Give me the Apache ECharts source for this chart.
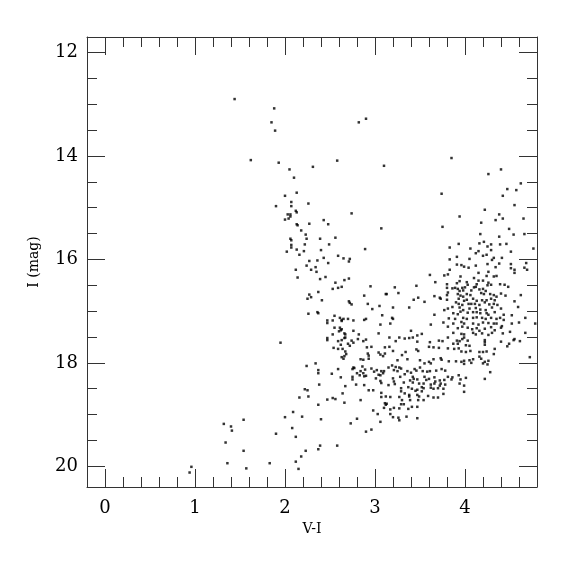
<!DOCTYPE html>
<html><head><meta charset="utf-8">
<script src="https://cdn.jsdelivr.net/npm/echarts@6/dist/echarts.min.js"></script>
<style>html,body{margin:0;padding:0;background:#fff}#c{width:575px;height:575px}</style>
</head><body><div id="c"></div>
<script>
// [V-I, I] pairs
const brightStars = [[1.44,12.90],[1.88,13.08],[1.85,13.35],[1.89,13.51],[2.82,13.35],[2.90,13.28],[1.62,14.08],[1.93,14.13],[2.05,14.26],[2.10,14.42],[2.31,14.21],[2.58,14.09],[3.10,14.19],[3.85,14.04],[4.40,14.26],[4.26,14.35],[4.62,14.53]];
const blueBranch = [[2.13,14.71],[2.00,14.77],[2.07,14.89],[2.07,14.97],[1.90,14.97],[2.26,14.92],[2.12,15.06],[2.13,15.09],[2.03,15.13],[2.06,15.13],[2.06,15.17],[2.04,15.21],[2.00,15.23],[2.74,15.11],[2.13,15.32],[2.14,15.34],[2.27,15.31],[2.43,15.24],[2.48,15.32],[3.07,15.40],[2.18,15.44],[2.23,15.52],[2.24,15.60],[2.06,15.60],[2.07,15.63],[2.39,15.60],[2.56,15.58],[2.07,15.72],[2.07,15.77],[2.22,15.71],[2.49,15.71],[2.13,15.81],[2.02,15.85],[2.21,15.84],[2.40,15.82],[2.89,15.80],[2.16,15.91],[2.43,15.97],[2.59,15.93],[2.65,15.98],[2.72,15.99],[2.71,16.04],[2.27,16.03],[2.36,16.02],[2.48,16.07],[2.24,16.12],[2.34,16.15],[2.29,16.20],[2.35,16.24],[2.12,16.20],[2.14,16.35],[2.45,16.34],[2.39,16.38],[2.66,16.40],[2.71,16.37],[2.56,16.45],[2.59,16.55],[2.63,16.53],[2.53,16.57],[2.95,16.52],[3.12,16.67],[2.37,16.63],[2.27,16.68],[2.25,16.76],[2.29,16.73],[2.41,16.79],[2.88,16.70],[2.71,16.81],[2.72,16.84],[2.74,16.87],[2.92,16.86],[3.05,16.90],[2.97,16.96],[2.26,17.05],[2.36,17.02],[2.37,17.04],[2.55,17.09],[2.47,17.18],[2.47,17.23],[2.53,17.18],[2.61,17.13],[2.65,17.15],[2.63,17.17],[2.63,17.19],[2.70,17.15],[2.76,17.18],[3.08,17.08],[2.88,17.17],[2.90,17.15],[3.06,17.26],[2.55,17.32],[2.61,17.32],[2.62,17.37],[2.60,17.39],[2.63,17.35],[2.66,17.43],[2.67,17.45],[2.76,17.38],[2.53,17.45],[2.82,17.45],[3.04,17.43]];
const faintBranch = [[2.47,17.52],[2.47,17.56],[2.59,17.58],[2.63,17.56],[2.67,17.51],[2.66,17.52],[2.74,17.57],[2.76,17.61],[2.81,17.54],[2.87,17.58],[2.90,17.55],[1.95,17.61],[2.70,17.63],[2.72,17.67],[2.62,17.65],[2.54,17.71],[2.59,17.73],[2.64,17.73],[2.91,17.70],[2.96,17.69],[3.11,17.70],[2.67,17.78],[2.68,17.83],[2.66,17.87],[2.63,17.89],[2.65,17.92],[2.92,17.82],[2.93,17.86],[3.04,17.80],[3.06,17.84],[3.09,17.87],[3.11,17.82],[2.84,17.93],[2.87,17.94],[2.93,17.92],[2.34,18.01],[2.24,18.06],[2.37,18.14],[2.37,18.20],[2.52,18.21],[2.59,18.12],[2.76,18.09],[2.75,18.12],[2.77,18.10],[2.86,18.07],[2.89,18.13],[2.75,18.27],[2.75,18.32],[2.80,18.20],[2.84,18.16],[2.87,18.20],[2.83,18.24],[2.88,18.26],[2.90,18.25],[2.96,18.11],[2.99,18.17],[3.02,18.14],[3.07,18.16],[3.09,18.20],[3.06,18.24],[3.10,18.16],[3.04,18.23],[3.01,18.30],[3.06,18.35],[3.07,18.39],[2.62,18.28],[2.67,18.45],[2.38,18.42],[2.79,18.42],[2.88,18.43],[2.93,18.53],[2.98,18.53],[2.22,18.51],[2.25,18.53],[2.26,18.65],[2.16,18.67],[2.47,18.71],[2.53,18.68],[2.56,18.70],[2.64,18.59],[2.66,18.77],[2.84,18.72],[3.07,18.58],[3.07,18.66],[3.12,18.65],[3.11,18.78],[3.12,18.81],[3.10,18.87],[2.37,18.81],[2.98,18.92],[3.03,18.99],[3.06,19.14],[2.96,19.29],[2.90,19.33],[2.80,19.08],[2.73,19.17],[2.40,19.09],[2.19,19.04],[2.09,18.95],[2.00,19.05],[1.54,19.10],[2.08,19.26],[2.12,19.43],[1.90,19.37],[2.39,19.60],[2.37,19.67],[2.58,19.60],[2.23,19.70],[1.54,19.70],[2.18,19.81],[2.12,19.91],[1.83,19.94],[2.15,20.05],[1.57,20.04]];
const faintBlue = [[1.32,19.18],[1.40,19.23],[1.41,19.31],[1.34,19.54],[1.36,19.94],[0.96,20.01],[0.94,20.12]];
const redGiants = [[3.74,14.73],[4.47,14.64],[4.57,14.66],[4.42,14.77],[4.55,14.95],[4.22,15.04],[3.94,15.17],[4.38,15.13],[4.42,15.21],[4.34,15.24],[4.65,15.21],[4.18,15.29],[3.75,15.37],[4.49,15.41],[4.17,15.51],[4.54,15.52],[4.66,15.51],[4.38,15.56],[4.21,15.66],[4.16,15.69],[4.29,15.71],[4.39,15.71],[4.46,15.70],[3.93,15.70],[3.83,15.77],[4.06,15.79],[4.15,15.84],[4.29,15.82],[4.25,15.75],[4.51,15.85],[4.76,15.79],[4.12,15.88],[4.20,15.93],[4.24,15.91],[4.32,15.97],[4.41,15.97],[4.30,16.01],[3.91,15.95],[3.83,16.00],[4.05,15.99],[3.96,16.11],[3.91,16.10],[3.99,16.14],[4.04,16.16],[4.12,16.12],[4.25,16.09],[4.38,16.08],[4.34,16.15],[4.51,16.09],[4.51,16.17],[4.55,16.20],[4.55,16.26],[4.66,16.16],[4.69,16.20],[4.68,16.07],[3.83,16.20],[3.81,16.29],[3.77,16.31],[3.61,16.30],[4.15,16.26],[4.26,16.24],[4.24,16.32],[4.32,16.33],[4.35,16.32],[4.10,16.36],[3.95,16.33],[3.94,16.42],[3.91,16.46],[4.02,16.44],[4.03,16.49],[4.15,16.41],[4.13,16.48],[4.20,16.41],[4.25,16.50],[4.26,16.45],[4.29,16.49],[4.39,16.48],[4.44,16.49],[4.48,16.53],[3.67,16.44],[3.80,16.48],[3.80,16.55],[3.86,16.56],[3.89,16.55],[3.92,16.57],[3.97,16.55],[3.98,16.60],[4.00,16.54],[4.10,16.54],[4.12,16.53],[4.07,16.60],[4.16,16.58],[4.20,16.57],[4.23,16.61],[4.18,16.65],[4.21,16.67],[4.28,16.67],[4.32,16.69],[4.35,16.72],[4.40,16.66],[4.45,16.70],[4.62,16.69],[3.46,16.51],[3.22,16.54],[3.26,16.65],[3.13,16.67],[3.43,16.78],[3.48,16.74],[3.55,16.82],[3.66,16.71],[3.72,16.74],[3.73,16.76],[3.80,16.69],[3.80,16.78],[3.81,16.64],[3.92,16.67],[3.94,16.61],[3.95,16.70],[3.98,16.72],[4.02,16.67],[4.06,16.69],[3.93,16.76],[3.99,16.80],[4.02,16.78],[4.09,16.76],[4.13,16.80],[4.19,16.79],[4.24,16.79],[4.29,16.76],[4.33,16.79],[3.90,16.83],[3.93,16.86],[3.97,16.88],[4.04,16.86],[4.07,16.86],[4.11,16.86],[4.16,16.88],[4.22,16.83],[4.27,16.87],[4.32,16.86],[4.36,16.88],[4.55,16.81],[3.20,16.93],[3.38,16.93],[3.81,16.95],[3.86,16.92],[3.94,16.93],[3.98,16.98],[4.05,16.95],[4.12,16.94],[4.17,16.97],[4.23,16.98],[4.30,16.93],[4.40,16.95],[4.59,16.92],[3.77,16.98],[3.87,17.04],[3.92,17.06],[3.95,17.01],[4.03,17.03],[4.09,17.02],[4.13,17.02],[4.17,17.04],[4.24,17.04],[4.26,17.07],[4.33,17.02],[4.43,17.07],[4.52,17.08],[3.66,17.07],[3.19,17.13],[3.20,17.15],[3.17,17.24],[3.82,17.14],[3.89,17.15],[3.98,17.13],[4.02,17.15],[4.09,17.13],[4.13,17.12],[4.19,17.13],[4.23,17.15],[4.29,17.13],[4.35,17.15],[4.39,17.13],[4.43,17.17],[4.60,17.22],[4.67,17.13],[4.78,17.24],[3.62,17.26],[3.76,17.22],[3.87,17.24],[3.96,17.21],[3.99,17.24],[4.09,17.24],[4.15,17.26],[4.20,17.22],[4.26,17.23],[4.32,17.24],[4.35,17.24],[4.41,17.29],[4.52,17.24],[3.81,17.30],[3.92,17.33],[3.97,17.30],[4.03,17.32],[4.08,17.35],[4.13,17.33],[4.16,17.38],[4.22,17.34],[4.29,17.31],[4.33,17.37],[4.40,17.32],[4.50,17.40],[4.67,17.42],[3.40,17.38],[3.47,17.47],[3.52,17.44],[3.87,17.42],[3.96,17.44],[3.99,17.45],[4.09,17.42],[4.12,17.45],[4.19,17.43],[4.26,17.46],[4.30,17.42],[4.42,17.43]];
const clumpStars = [[3.16,17.51],[3.27,17.51],[3.33,17.53],[3.38,17.52],[3.42,17.51],[3.47,17.59],[3.23,17.58],[3.61,17.60],[3.71,17.57],[3.75,17.58],[3.81,17.51],[3.87,17.63],[3.91,17.57],[3.92,17.63],[3.94,17.58],[3.97,17.54],[3.99,17.51],[4.03,17.57],[4.22,17.56],[4.22,17.60],[4.22,17.65],[4.40,17.59],[4.47,17.68],[4.49,17.63],[4.54,17.56],[4.55,17.54],[4.61,17.58],[3.16,17.69],[3.20,17.77],[3.30,17.85],[3.34,17.79],[3.46,17.74],[3.48,17.77],[3.60,17.69],[3.65,17.70],[3.71,17.71],[3.81,17.72],[3.88,17.73],[3.93,17.72],[4.01,17.66],[4.05,17.67],[3.96,17.78],[4.01,17.79],[4.06,17.77],[4.16,17.79],[4.20,17.79],[4.24,17.78],[4.33,17.73],[4.32,17.83],[4.72,17.89],[3.25,17.95],[3.36,17.93],[3.50,17.95],[3.55,18.01],[3.60,17.98],[3.62,18.01],[3.65,17.93],[3.73,17.91],[3.74,17.94],[3.82,17.97],[3.90,17.97],[3.96,17.98],[3.99,17.96],[3.99,18.02],[4.05,17.95],[4.07,18.00],[4.09,17.93],[4.16,17.88],[4.18,17.92],[4.20,18.01],[4.22,17.98],[4.25,18.03],[4.26,17.96],[4.28,18.18],[4.22,18.31],[3.15,18.09],[3.19,18.05],[3.21,18.14],[3.23,18.08],[3.27,18.09],[3.25,18.16],[3.29,18.11],[3.20,18.30],[3.21,18.36],[3.15,18.43],[3.22,18.41],[3.33,18.22],[3.36,18.16],[3.40,18.19],[3.44,18.12],[3.46,18.15],[3.50,18.09],[3.53,18.16],[3.58,18.17],[3.61,18.16],[3.68,18.15],[3.74,18.12],[3.78,18.15],[3.81,18.27],[3.86,18.28],[3.85,18.32],[3.93,18.24],[3.95,18.32],[4.01,18.29],[3.94,18.40],[3.99,18.44],[3.99,18.56],[3.28,18.27],[3.42,18.27],[3.43,18.31],[3.47,18.32],[3.55,18.27],[3.57,18.33],[3.60,18.31],[3.66,18.28],[3.67,18.36],[3.72,18.34],[3.77,18.33],[3.73,18.40],[3.78,18.42],[3.32,18.38],[3.39,18.34],[3.42,18.38],[3.49,18.40],[3.54,18.40],[3.62,18.42],[3.66,18.40],[3.72,18.44],[3.29,18.49],[3.37,18.47],[3.41,18.50],[3.47,18.52],[3.52,18.47],[3.54,18.49],[3.59,18.64],[3.62,18.48],[3.65,18.50],[3.70,18.49],[3.76,18.50],[3.76,18.60],[3.70,18.67],[3.65,18.67],[3.29,18.55],[3.33,18.59],[3.38,18.62],[3.45,18.54],[3.47,18.62],[3.49,18.65],[3.52,18.55],[3.17,18.66],[3.27,18.66],[3.38,18.65],[3.30,18.72],[3.29,18.80],[3.32,18.80],[3.39,18.72],[3.48,18.72],[3.54,18.72],[3.13,18.79],[3.21,18.87],[3.17,18.90],[3.27,18.88],[3.37,18.89],[3.41,18.85],[3.47,18.85],[3.17,18.99],[3.20,19.05],[3.26,19.06],[3.27,19.11],[3.35,19.04],[3.47,19.07]];

const xMajor = [0, 1, 2, 3, 4];
const yMajor = [12, 14, 16, 18, 20];

const xMinor = [];
for (let i = 0; i <= 24; i++) xMinor.push(+(i * 0.2).toFixed(1));
const yMinor = [];
for (let i = 0; i <= 16; i++) yMinor.push(12 + i * 0.5);

const allStars = [].concat(brightStars, blueBranch, faintBranch, faintBlue, redGiants, clumpStars);

const FONT = 'DejaVu Serif';
const lineCol = '#333';
const X_MIN = -0.2, X_MAX = 4.8, Y_MIN = 11.7, Y_MAX = 20.4;

function xAx(pos, vals, len, withLine, withLabel) {
  return {
    type: 'value', position: pos, min: X_MIN, max: X_MAX,
    splitLine: {show: false},
    axisLine: {show: withLine, onZero: false, lineStyle: {color: lineCol, width: 1}},
    axisTick: {show: true, inside: true, length: len, customValues: vals, lineStyle: {color: lineCol, width: 1}},
    axisLabel: withLabel ? {show: true, customValues: xMajor, fontFamily: FONT, fontSize: 18, color: '#000', margin: 12} : {show: false},
    name: withLabel ? 'V-I' : '', nameLocation: 'middle', nameGap: 35,
    nameTextStyle: {fontFamily: FONT, fontSize: 14, color: '#000'}
  };
}
function yAx(pos, vals, len, withLine, withLabel) {
  return {
    type: 'value', position: pos, min: Y_MIN, max: Y_MAX, inverse: true,
    splitLine: {show: false},
    axisLine: {show: withLine, onZero: false, lineStyle: {color: lineCol, width: 1}},
    axisTick: {show: true, inside: true, length: len, customValues: vals, lineStyle: {color: lineCol, width: 1}},
    axisLabel: withLabel ? {show: true, customValues: yMajor, fontFamily: FONT, fontSize: 18, color: '#000', margin: 9} : {show: false},
    name: withLabel ? 'I (mag)' : '', nameLocation: 'middle', nameGap: 46, nameRotate: 90,
    nameTextStyle: {fontFamily: FONT, fontSize: 14, color: '#000'}
  };
}

const chart = echarts.init(document.getElementById('c'), null, {renderer: 'canvas'});
chart.setOption({
  animation: false,
  backgroundColor: '#fff',
  grid: {left: 87, right: 38, top: 37, bottom: 88, containLabel: false},
  xAxis: [
    xAx('bottom', xMajor, 18, true, true),
    xAx('bottom', xMinor, 10, false, false),
    xAx('top', xMajor, 18, true, false),
    xAx('top', xMinor, 10, false, false)
  ],
  yAxis: [
    yAx('left', yMajor, 18, true, true),
    yAx('left', yMinor, 10, false, false),
    yAx('right', yMajor, 18, true, false),
    yAx('right', yMinor, 10, false, false)
  ],
  series: [{
    type: 'scatter', xAxisIndex: 0, yAxisIndex: 0,
    symbol: 'rect', symbolSize: 2.5,
    itemStyle: {color: '#000'},
    data: allStars
  }]
});
</script></body></html>
